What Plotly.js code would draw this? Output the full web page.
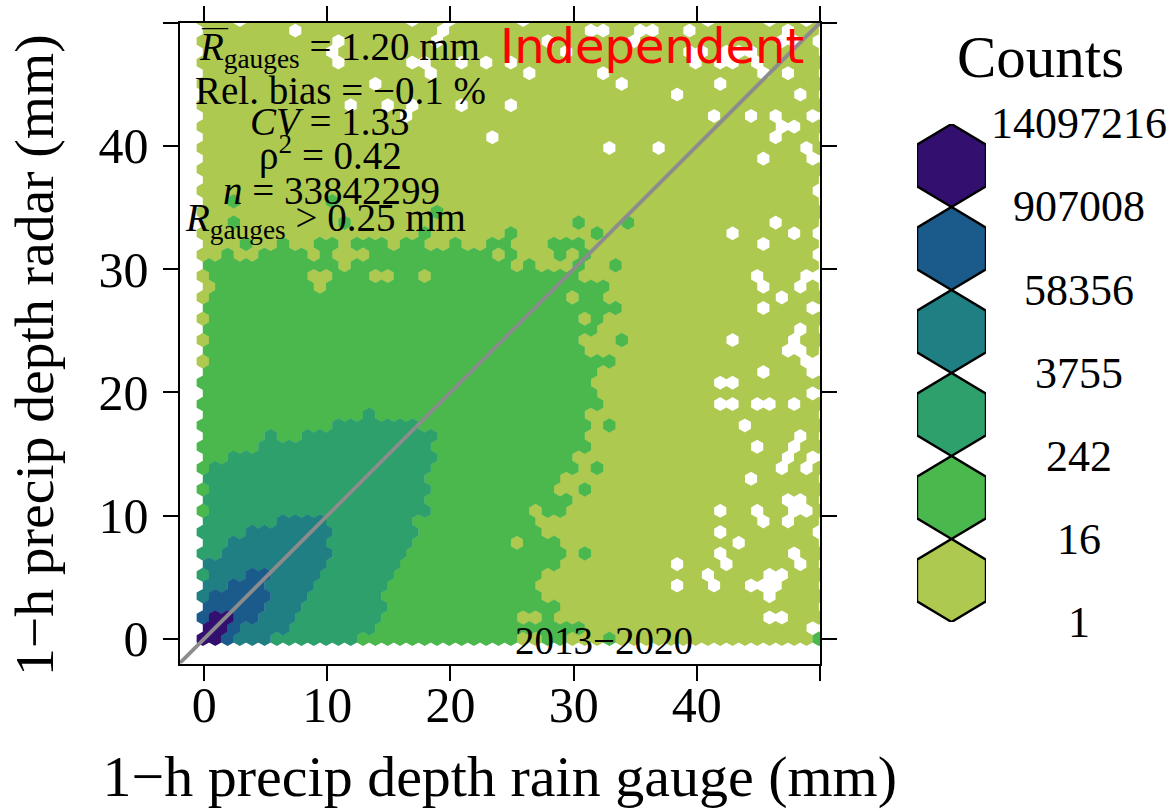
<!DOCTYPE html>
<html>
<head>
<meta charset="utf-8">
<script src="https://cdn.plot.ly/plotly-3.0.1.min.js"></script>
<style>html,body{margin:0;padding:0;background:#fff}#chart{width:1173px;height:809px}</style>
</head>
<body>
<div id="chart"></div>
<script>
// Count classes, lowest to highest
const levelLabels = ['1','16','242','3755','58356','907008','14097216'];
const levelColors = ['#AEC950','#4BB84D','#2EA06C','#1F7F82','#1A5B8C','#330F70'];
const legendTitle = 'Counts';

// Each row of the hexagon grid, bottom to top: pairs of (class, number of cells). Cells after the list are class 1.
const rowRuns = [
 [6,2,5,1,4,3,3,7,2,13,1,2,2,2,1,3,2,1,1,16,2,1],
 [6,2,5,1,4,4,3,7,2,17],
 [5,1,6,2,5,2,4,3,3,7,2,11,1,2,2,1],
 [5,5,4,3,3,7,2,14],
 [4,1,5,5,4,3,3,6,2,13],
 [4,2,5,3,4,4,3,6,2,12],
 [3,1,4,3,5,2,4,4,3,6,2,12],
 [4,10,3,6,2,13],
 [3,2,4,9,3,6,2,13,1,1,2,1],
 [3,2,4,8,3,7,2,8,1,1,2,3],
 [3,4,4,7,3,7,2,10],
 [3,6,4,4,3,7,2,10],
 [2,1,3,18,2,8,1,1,2,2],
 [3,18,2,12],
 [2,1,3,18,2,10,1,2,2,1],
 [3,18,2,11],
 [2,1,3,18,2,12,1,1,2,1],
 [2,2,3,17,2,11],
 [2,5,3,14,2,13],
 [2,5,3,1,2,2,3,11,2,12],
 [2,11,3,7,2,14,1,1,2,1],
 [2,13,3,1,2,17],
 [2,33],
 [2,32],
 [2,32],
 [2,32],
 [1,1,2,33],
 [2,31],
 [1,1,2,30,1,3,2,1],
 [2,32],
 [1,1,2,30,1,1,2,1],
 [2,34],
 [1,1,2,29,1,1,2,2],
 [1,1,2,8,1,1,2,23],
 [1,1,2,8,1,2,2,3,1,2,2,2,1,1,2,12],
 [2,11,1,1,2,13,1,1,2,1,1,3,2,1,1,2,2,1],
 [1,2,2,1,1,2,2,4,1,1,2,1,1,3,2,10,1,1,2,1,1,3,2,1,1,1,2,1],
 [1,3,2,1,1,2,2,1,1,2,2,2,1,1,2,3,1,1,2,2,1,2,2,1,1,2,2,2,1,3,2,3],
 [1,18,2,1,1,6,2,1,1,6,2,1],
 [1,2,2,1,1,8,2,1,1,18,2,1,1,3,2,1],
 [1,19,2,1],
 [1,2,2,1,1,7,2,1],
 [],[],[],[],[],[],[],[],[],[],[],[],[],[],[],[],[]
];
// Cells with no observations: [row, column]
const emptyCells = [
 [58,3],[58,17],[58,20],[58,26],[58,41],[58,46],[58,49],
 [57,7],[57,19],[57,31],[57,32],[57,35],[57,36],[57,39],[57,47],
 [56,11],[56,19],[56,28],[56,35],[56,47],[56,48],[56,50],
 [55,10],[55,29],[55,39],[55,40],[55,42],[55,43],[55,44],
 [54,11],[54,17],[54,18],[54,21],[54,23],[54,25],[54,40],[54,42],[54,43],[54,45],
 [53,18],[53,26],[53,32],[53,45],[53,47],
 [52,14],[52,34],[52,42],
 [51,38],[51,48],
 [50,12],[50,15],[50,17],[50,21],[50,25],
 [49,16],[49,41],[49,44],[49,46],[49,49],
 [48,47],[48,48],
 [47,23],[47,46],
 [46,33],[46,37],[46,49],
 [45,45],[45,49],
 [42,50],[39,46],[38,43],[38,48],[38,50],[37,45],[36,50],
 [34,45],[34,49],[34,50],[33,45],[33,48],[32,47],[31,45],[31,49],
 [29,48],[28,43],[28,48],[27,47],[27,48],[26,49],[26,50],[25,45],[25,49],
 [24,42],[24,43],[23,49],[22,42],[22,43],[22,45],[22,46],[22,48],
 [20,44],[19,48],[18,45],[18,48],[17,47],[17,49],[16,47],[16,49],[15,44],
 [13,47],[13,48],[12,42],[12,45],[12,48],[12,49],[11,45],[11,47],
 [10,42],[10,50],[9,43],[8,42],[8,48],[7,38],[7,42],[7,48],
 [6,41],[6,46],[6,47],[5,38],[5,41],[5,44],[5,45],[5,46],[4,46],[2,46],[2,47],[1,49]
];
const axisTicks = [0,10,20,30,40,50];
const axisTickText = ['0','10','20','30','40','\u00A0'];
const xTitle = '1\u2212h precip depth rain gauge (mm)';
const yTitle = '1\u2212h precip depth radar (mm)';
const oneToOne = [-2,50];

const W = 1173, H = 809;
const px = x => x / W, py = y => 1 - y / H;
const SERIF = '"Liberation Serif","Times New Roman",serif';
const SQ3 = Math.sqrt(3) / 2;
const xShift = -0.1;
const hw = 0.51, hh = 0.59, hq = 0.295;  // hexagon half width, half height, shoulder height in axis units

// Expand runs into hexagon outlines, one path per class
const isEmpty = new Set(emptyCells.map(c => c[0] + ':' + c[1]));
const byLevel = levelColors.map(() => ({x: [], y: []}));
for (let k = 0; k <= 58; k++) {
  const runs = rowRuns[k] || [];
  const seq = [];
  for (let j = 0; j < runs.length; j += 2) for (let n = 0; n < runs[j + 1]; n++) seq.push(runs[j]);
  const nCols = k % 2 ? 50 : 51;
  for (let i = 0; i < nCols; i++) {
    if (isEmpty.has(k + ':' + i)) continue;
    const lev = i < seq.length ? seq[i] : 1;
    const cx = i + (k % 2 ? 0.5 : 0) + xShift, cy = k * SQ3;
    byLevel[lev - 1].x.push(cx, cx + hw, cx + hw, cx, cx - hw, cx - hw, cx, null);
    byLevel[lev - 1].y.push(cy - hh, cy - hq, cy + hq, cy + hh, cy + hq, cy - hq, cy - hh, null);
  }
}
const traces = byLevel.map((d, l) => ({
  type: 'scatter', mode: 'lines', x: d.x, y: d.y, xaxis: 'x', yaxis: 'y',
  fill: 'toself', fillcolor: levelColors[l], connectgaps: false,
  line: {width: 0, color: levelColors[l], simplify: false},
  hoverinfo: 'skip', showlegend: false
}));
traces.push({type: 'scatter', mode: 'lines', x: oneToOne, y: oneToOne, xaxis: 'x', yaxis: 'y',
  hoverinfo: 'skip', showlegend: false, line: {color: '#8C8C8C', width: 3.8}});

// Colour key: six hexagons, one axis unit tall each
levelColors.forEach((c, l) => {
  traces.push({type: 'scatter', mode: 'lines', xaxis: 'x2', yaxis: 'y2', fill: 'toself', fillcolor: c,
    x: [0.5, 1, 1, 0.5, 0, 0, 0.5],
    y: [l, l + .25, l + .75, l + 1, l + .75, l + .25, l],
    line: {color: '#000', width: 2.4}, hoverinfo: 'skip', showlegend: false});
});
// Carrier for the y axis title, whose axis sits a little lower than the plot
traces.push({type: 'scatter', mode: 'markers', x: [null], y: [null], xaxis: 'x3', yaxis: 'y3',
  hoverinfo: 'skip', showlegend: false});

const axisStyle = {showline: true, linecolor: '#000', linewidth: 2, mirror: 'allticks', ticks: 'outside',
  ticklen: 15, tickwidth: 2, tickcolor: '#000', showgrid: false, zeroline: false, tickmode: 'array',
  tickvals: axisTicks, ticktext: axisTickText, tickangle: 0, tickfont: {family: SERIF, size: 50, color: '#000'}};

const note = (text, x, y, size, extra) => Object.assign({
  text, xref: 'paper', yref: 'paper', x: px(x), y: py(y), xanchor: 'center', yanchor: 'middle',
  showarrow: false, font: {family: SERIF, size, color: '#000'}
}, extra || {});

const annotations = [
  note('<i>R</i><sub>gauges</sub> = 1.20 mm', 339, 50, 39),
  note('\u2014', 215, 27, 26),
  note('Rel. bias = \u22120.1 %', 340, 90, 39),
  note('<i>CV</i> = 1.33', 330, 122, 39),
  note('\u03C1<sup>2</sup> = 0.42', 330, 153, 39),
  note('<i>n</i> = 33842299', 331, 190, 39),
  note('<i>R</i><sub>gauges</sub> > 0.25 mm', 325, 220, 39),
  note('Independent', 652, 46, 48, {font: {family: '"DejaVu Sans",sans-serif', size: 48, color: '#FF0000'}}),
  note('2013\u22122020', 604, 640, 39),
  note(legendTitle, 1040, 57, 59)
];
levelLabels.forEach((t, l) => annotations.push({
  text: t, xref: 'paper', yref: 'y2', x: px(1079), y: l, xanchor: 'center', yanchor: 'middle',
  showarrow: false, font: {family: SERIF, size: 44, color: '#000'}
}));

const layout = {
  width: W, height: H, margin: {l: 0, r: 0, t: 0, b: 0, pad: 0},
  paper_bgcolor: '#fff', plot_bgcolor: 'rgba(0,0,0,0)', showlegend: false,
  xaxis: Object.assign({}, axisStyle, {domain: [px(179.5), px(820)], range: [-2, 50], anchor: 'y',
    ticklabelstandoff: -19, title: {text: xTitle, standoff: 35, font: {family: SERIF, size: 58, color: '#000'}}}),
  yaxis: Object.assign({}, axisStyle, {domain: [py(663.5), py(22.7)], range: [-2, 50], anchor: 'x',
    ticklabelstandoff: 4}),
  xaxis3: {domain: [px(179.5), px(820)], range: [-2, 50], anchor: 'y3', visible: false},
  yaxis3: {domain: [py(675.5), py(34.7)], range: [-2, 50], anchor: 'x3', showline: false, ticks: '',
    showticklabels: false, showgrid: false, zeroline: false,
    title: {text: yTitle, standoff: 107, font: {family: SERIF, size: 55.5, color: '#000'}}},
  xaxis2: {domain: [px(917), px(986)], range: [0, 1], visible: false, anchor: 'y2', fixedrange: true},
  yaxis2: {domain: [py(622), py(124)], range: [0, 6], visible: false, anchor: 'x2', fixedrange: true},
  annotations
};
Plotly.newPlot('chart', traces, layout, {displayModeBar: false, staticPlot: true});
</script>
</body>
</html>
